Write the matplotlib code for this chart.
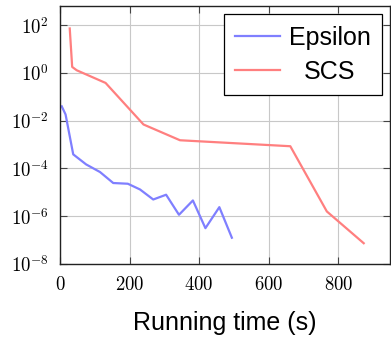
import numpy as np
import matplotlib
matplotlib.use("Agg")
from matplotlib import pyplot as plt
from matplotlib.ticker import NullLocator

# datos (tiempo en s, error en log10)
t_eps = [5, 16, 38, 75, 115, 153, 195, 230, 268, 305, 342, 382, 418, 458, 494]
log_eps = [-1.40, -1.74, -3.41, -3.83, -4.15, -4.61, -4.64, -4.88, -5.30, -5.10,
           -5.94, -5.34, -6.50, -5.62, -6.90]
t_scs = [28, 35, 48, 131, 240, 345, 662, 767, 873]
log_scs = [1.86, 0.25, 0.11, -0.42, -2.16, -2.82, -3.07, -5.80, -7.13]

xticks = [0, 200, 400, 600, 800]
yexp = [-8, -6, -4, -2, 0, 2]

plt.rcParams['mathtext.fontset'] = 'cm'

W, H = 391, 338
fig = plt.figure(figsize=(W/100, H/100), dpi=100)
ax = fig.add_axes([60/W, 1-264/H, 330.5/W, (264-5.7)/H])

ax.plot(t_eps, 10**np.array(log_eps), color='#7f7fff', lw=1.6, label='Epsilon')
ax.plot(t_scs, 10**np.array(log_scs), color='#ff7f7f', lw=1.6, label='SCS')

ax.set_yscale('log')
ax.set_xlim(0, 950)
ax.set_ylim(1e-8, 6.5e2)
ax.set_yticks([10.0**e for e in yexp], labels=['$10^{%d}$' % e for e in yexp])
ax.yaxis.set_minor_locator(NullLocator())
ax.set_xticks(xticks, labels=['$%d$' % v for v in xticks])

ax.grid(True, color='#c8c8c8', lw=0.8)
ax.set_axisbelow(True)
ax.tick_params(direction='in', length=5, width=0.8, color='#444444',
               top=True, right=True, labelsize=13.5, pad=8)
for s in ax.spines.values():
    s.set_color('#222222')
    s.set_linewidth(1.0)

ax.set_xlabel('Running time (s)', family='Liberation Sans', fontsize=18)
ax.xaxis.set_label_coords(0.5, -(323-264)/258.3)
ax.xaxis.label.set_va('center')

leg = ax.legend(loc='upper right', prop={'family': 'Liberation Sans', 'size': 18},
                frameon=True, fancybox=False, framealpha=1, edgecolor='black',
                handlelength=1.8, handletextpad=0.35, borderpad=0.45,
                labelspacing=0.4, borderaxespad=0.35)
leg.get_frame().set_linewidth(0.9)

# centrar "SCS" respecto de "Epsilon" como en el original
fig.canvas.draw()
t0, t1 = leg.get_texts()
w0 = t0.get_window_extent().width
w1 = t1.get_window_extent().width
t1.set_position(((w0 - w1) / 2, 0))

fig.savefig('out.png', dpi=100)
